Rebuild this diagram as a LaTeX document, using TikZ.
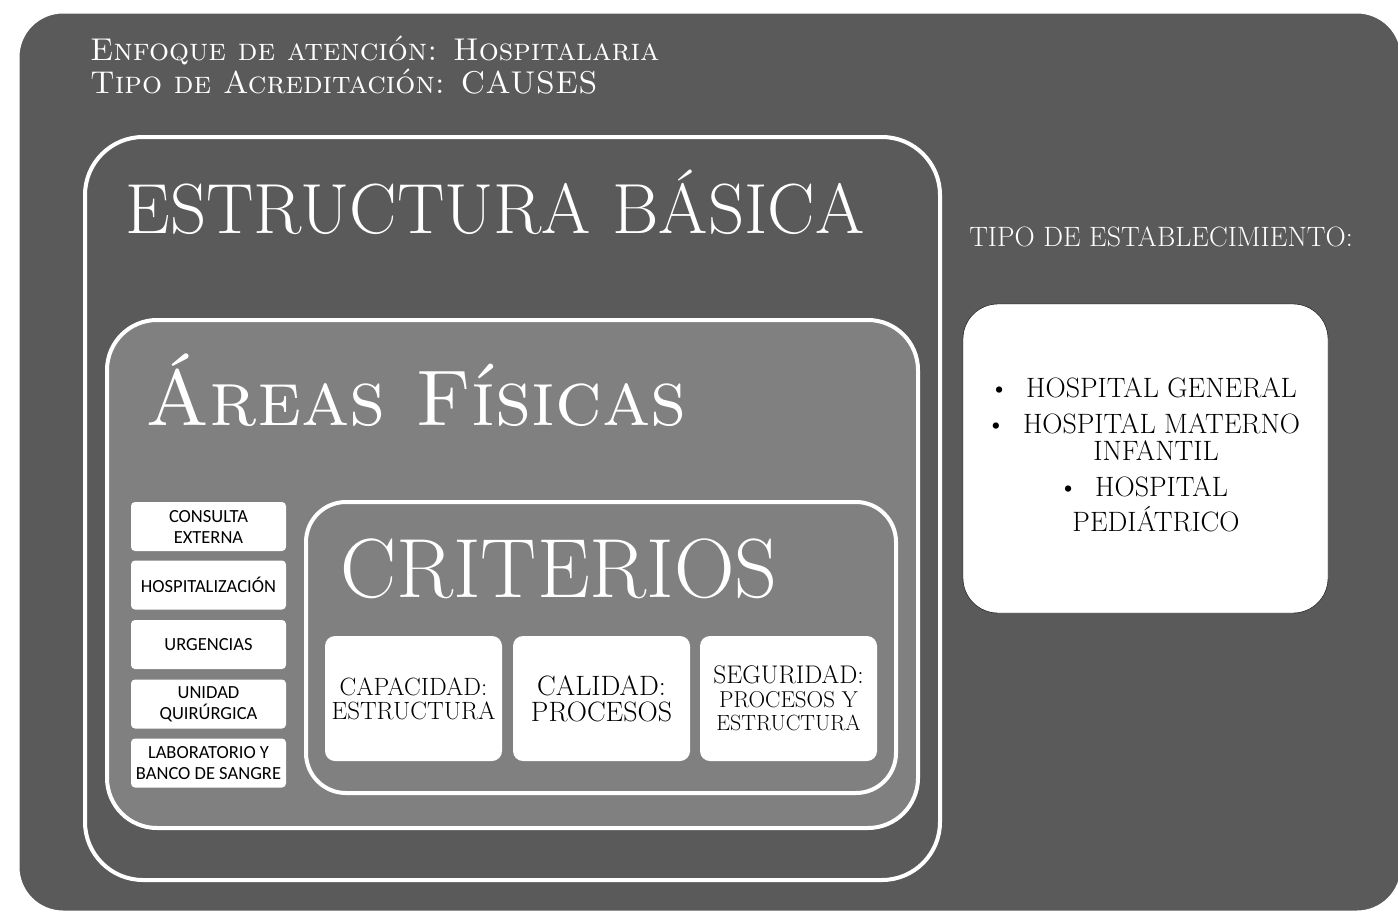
\documentclass[tikz,border=0pt]{standalone}
\usepackage{fontspec}
\newfontfamily\calfont{Carlito}
\definecolor{darkpanel}{HTML}{5A5A5A}
\definecolor{midpanel}{HTML}{808080}
\tikzset{
  frame/.style={draw=white,line width=4pt,rounded corners=#1},
  areabox/.style={fill=white,rounded corners=4pt,minimum width=155pt,minimum height=49pt,
    inner sep=0pt,align=center,font=\calfont\fontsize{18.5}{21}\selectfont},
  critbox/.style={fill=white,rounded corners=10pt,minimum width=177pt,minimum height=125pt,
    inner sep=0pt,align=center},
  title/.style={text=white,inner sep=0pt},
}

\begin{document}
\begin{tikzpicture}[x=1pt,y=-1pt]
  \useasboundingbox[fill=white] (0,0) rectangle (1398,919);
  % fondo
  \draw[draw=white,line width=3pt,rounded corners=45pt,fill=darkpanel] (18,12) rectangle (1402,912);
  \node[title,anchor=base west,font=\fontsize{31.5}{33}\selectfont\scshape] (hdr1) at (90,60) {Enfoque de atención: Hospitalaria};
  \node[title,anchor=base west,font=\fontsize{31.5}{33}\selectfont\scshape] (hdr2) at (90,93) {Tipo de Acreditación: CAUSES};

  % cajas anidadas
  \draw[frame=58pt,fill=darkpanel] (85,137) rectangle (940,880);
  \node[title,anchor=base,font=\fontsize{71}{74}\selectfont] (basica) at (495,233) {ESTRUCTURA BÁSICA};

  \draw[frame=50pt,fill=midpanel] (107,320) rectangle (918,828);
  \node[title,anchor=base west,font=\fontsize{79}{82}\selectfont\scshape] (areas) at (145,425) {Áreas Físicas};

  \node[areabox] (consulta) at (208.5,526.5) {CONSULTA\\EXTERNA};
  \node[areabox] (hospitalizacion) at (208.5,585) {HOSPITALIZACIÓN};
  \node[areabox] (urgencias) at (208.5,644.5) {URGENCIAS};
  \node[areabox] (quirurgica) at (208.5,704) {UNIDAD\\QUIRÚRGICA};
  \node[areabox] (laboratorio) at (208.5,763) {LABORATORIO Y\\BANCO DE SANGRE};

  \draw[frame=40pt,fill=midpanel] (306,502) rectangle (896,793);
  \node[title,anchor=base,font=\fontsize{84}{86}\selectfont] (criterios) at (559,597) {CRITERIOS};

  \node[critbox,font=\fontsize{25}{24}\selectfont] (capacidad) at (413.5,698.5) {CAPACIDAD:\\ESTRUCTURA};
  \node[critbox,font=\fontsize{28}{26}\selectfont] (calidad) at (601.5,698.5) {CALIDAD:\\PROCESOS};
  \node[critbox,font=\fontsize{23}{23.5}\selectfont] (seguridad) at (788.5,698.5) {{\fontsize{25.5}{23.5}\selectfont SEGURIDAD:}\\PROCESOS Y\\{\fontsize{22}{23.5}\selectfont ESTRUCTURA}};

  % tipo de establecimiento
  \node[title,anchor=base,font=\fontsize{28}{30}\selectfont] (tipo) at (1161,246) {TIPO DE ESTABLECIMIENTO:};
  \draw[fill=white,rounded corners=35pt] (963,304) rectangle (1328,613);
  \node[inner sep=0pt,align=center,font=\fontsize{28}{27}\selectfont] (lista) at (1143,455)
    {\textbullet\ \ HOSPITAL GENERAL\\[9pt]
     \textbullet\ \ HOSPITAL MATERNO\\
     \hspace*{26pt}INFANTIL\\[9pt]
     \textbullet\ \ HOSPITAL\\[8pt]
     \hspace*{26pt}PEDIÁTRICO};
\end{tikzpicture}
\end{document}
